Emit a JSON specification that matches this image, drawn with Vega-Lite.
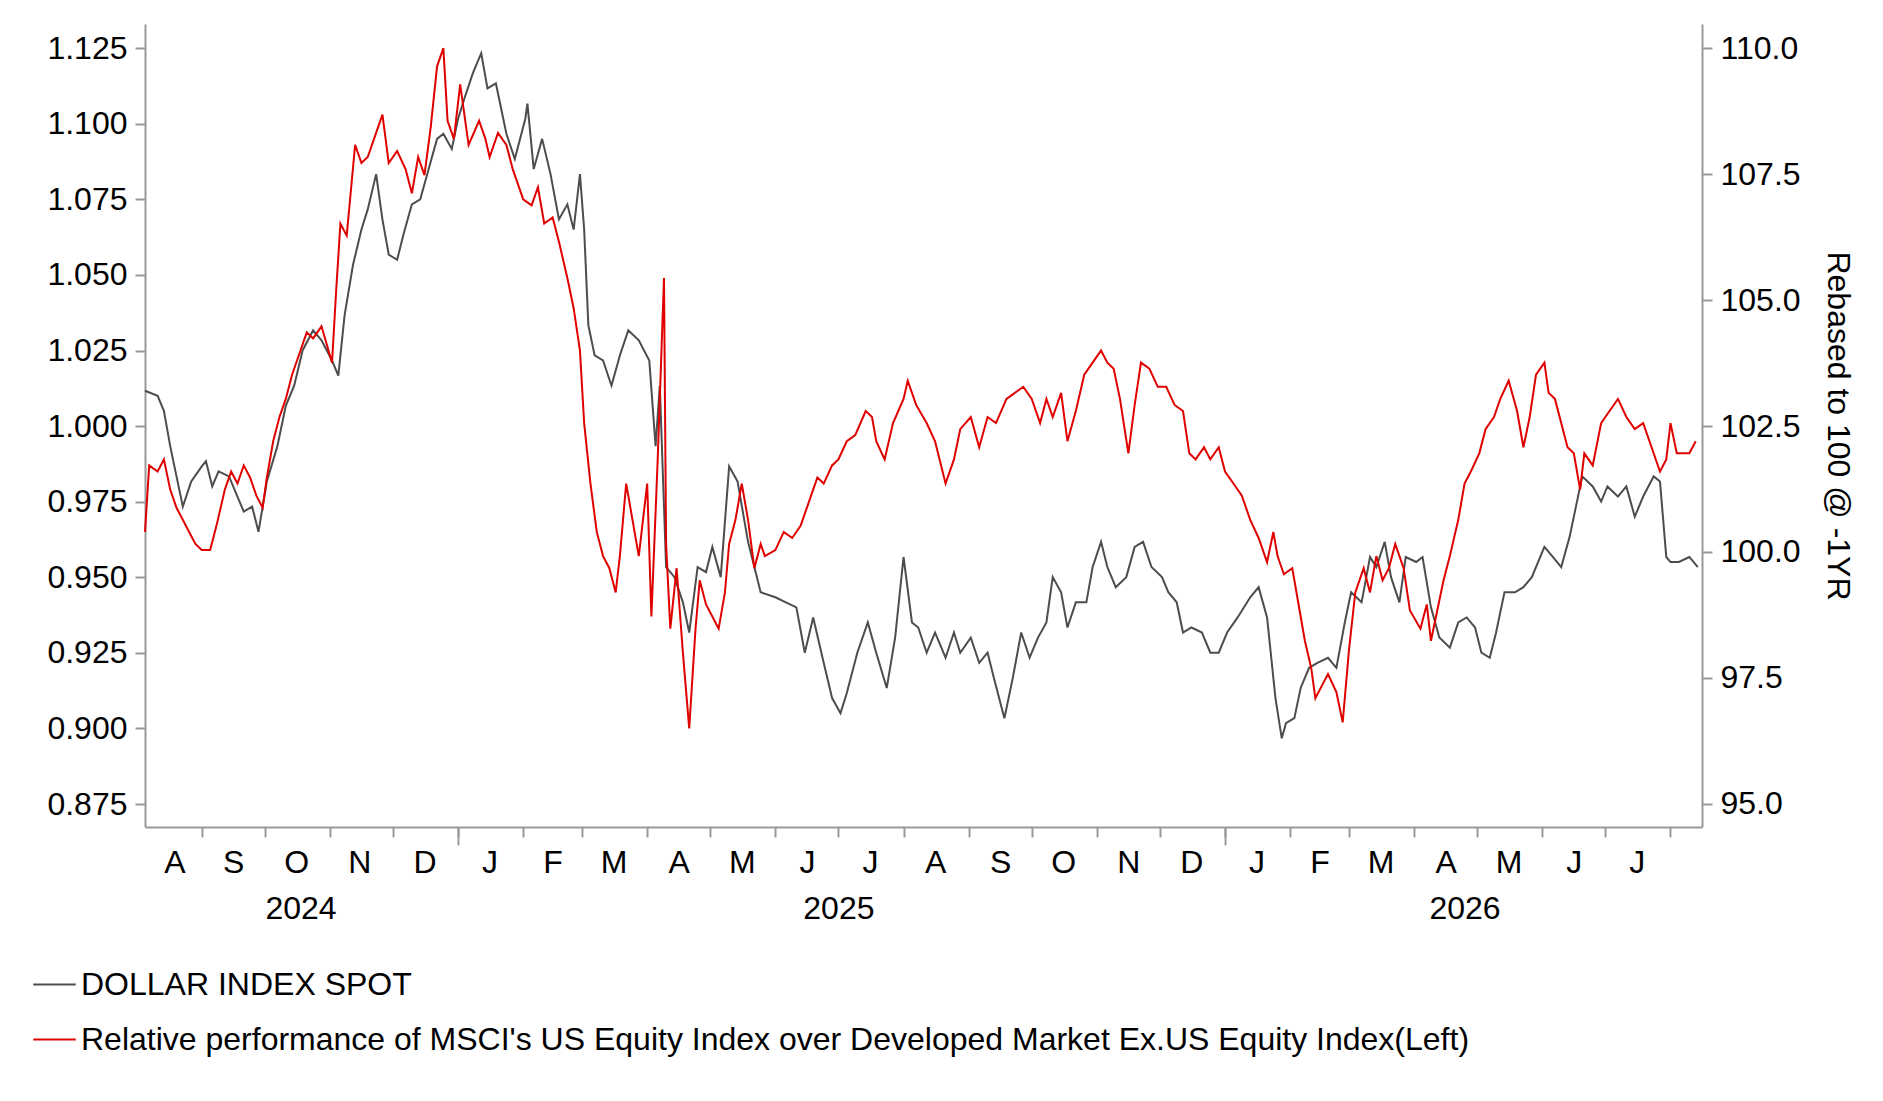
{
  "$schema": "https://vega.github.io/schema/vega-lite/v6.json",
  "width": 1557,
  "height": 803,
  "autosize": "none",
  "padding": {"left": 145, "top": 24, "right": 181, "bottom": 274},
  "config": {
    "font": "Liberation Sans",
    "view": {"stroke": null},
    "axis": {"labelFontSize": 32, "labelColor": "#000", "domainColor": "#999", "tickColor": "#999", "grid": false, "domainWidth": 2, "tickWidth": 2}
  },
  "datasets": {
    "usd": [
      {"date":"2024-08-05","v":103.2},{"date":"2024-08-11","v":103.1},{"date":"2024-08-14","v":102.8},{"date":"2024-08-17","v":102.1},{"date":"2024-08-20","v":101.5},{"date":"2024-08-23","v":100.9},{"date":"2024-08-27","v":101.4},{"date":"2024-09-01","v":101.7},{"date":"2024-09-03","v":101.8},{"date":"2024-09-06","v":101.3},{"date":"2024-09-09","v":101.6},{"date":"2024-09-14","v":101.5},{"date":"2024-09-18","v":101.1},{"date":"2024-09-21","v":100.8},{"date":"2024-09-25","v":100.9},{"date":"2024-09-28","v":100.4},
      {"date":"2024-10-02","v":101.4},{"date":"2024-10-07","v":102.1},{"date":"2024-10-11","v":102.9},{"date":"2024-10-15","v":103.3},{"date":"2024-10-19","v":104.0},{"date":"2024-10-24","v":104.4},{"date":"2024-10-28","v":104.2},{"date":"2024-11-02","v":103.8},{"date":"2024-11-05","v":103.5},{"date":"2024-11-08","v":104.7},{"date":"2024-11-12","v":105.7},{"date":"2024-11-16","v":106.4},{"date":"2024-11-19","v":106.8},{"date":"2024-11-23","v":107.5},{"date":"2024-11-26","v":106.6},{"date":"2024-11-29","v":105.9},
      {"date":"2024-12-03","v":105.8},{"date":"2024-12-06","v":106.3},{"date":"2024-12-10","v":106.9},{"date":"2024-12-14","v":107.0},{"date":"2024-12-18","v":107.6},{"date":"2024-12-22","v":108.2},{"date":"2024-12-25","v":108.3},{"date":"2024-12-29","v":108.0},{"date":"2025-01-01","v":108.6},{"date":"2025-01-04","v":109.0},{"date":"2025-01-08","v":109.5},{"date":"2025-01-12","v":109.9},{"date":"2025-01-15","v":109.2},{"date":"2025-01-19","v":109.3},{"date":"2025-01-24","v":108.3},{"date":"2025-01-28","v":107.8},
      {"date":"2025-02-02","v":108.6},{"date":"2025-02-03","v":108.9},{"date":"2025-02-06","v":107.6},{"date":"2025-02-10","v":108.2},{"date":"2025-02-14","v":107.5},{"date":"2025-02-18","v":106.6},{"date":"2025-02-22","v":106.9},{"date":"2025-02-25","v":106.4},{"date":"2025-02-28","v":107.5},{"date":"2025-03-02","v":106.4},{"date":"2025-03-04","v":104.5},{"date":"2025-03-07","v":103.9},{"date":"2025-03-11","v":103.8},{"date":"2025-03-15","v":103.3},{"date":"2025-03-19","v":103.9},{"date":"2025-03-23","v":104.4},{"date":"2025-03-28","v":104.2},
      {"date":"2025-04-02","v":103.8},{"date":"2025-04-05","v":102.1},{"date":"2025-04-07","v":103.3},{"date":"2025-04-10","v":99.7},{"date":"2025-04-14","v":99.5},{"date":"2025-04-18","v":99.0},{"date":"2025-04-21","v":98.4},{"date":"2025-04-25","v":99.7},{"date":"2025-04-29","v":99.6},{"date":"2025-05-02","v":100.1},{"date":"2025-05-06","v":99.5},{"date":"2025-05-10","v":101.7},{"date":"2025-05-14","v":101.4},{"date":"2025-05-19","v":100.2},{"date":"2025-05-22","v":99.7},{"date":"2025-05-25","v":99.2},
      {"date":"2025-06-01","v":99.1},{"date":"2025-06-06","v":99.0},{"date":"2025-06-11","v":98.9},{"date":"2025-06-15","v":98.0},{"date":"2025-06-19","v":98.7},{"date":"2025-06-24","v":97.8},{"date":"2025-06-28","v":97.1},{"date":"2025-07-02","v":96.8},{"date":"2025-07-05","v":97.2},{"date":"2025-07-10","v":98.0},{"date":"2025-07-15","v":98.6},{"date":"2025-07-19","v":98.0},{"date":"2025-07-24","v":97.3},{"date":"2025-07-28","v":98.3},
      {"date":"2025-08-01","v":99.9},{"date":"2025-08-05","v":98.6},{"date":"2025-08-08","v":98.5},{"date":"2025-08-12","v":98.0},{"date":"2025-08-16","v":98.4},{"date":"2025-08-21","v":97.9},{"date":"2025-08-25","v":98.4},{"date":"2025-08-28","v":98.0},{"date":"2025-09-02","v":98.3},{"date":"2025-09-06","v":97.8},{"date":"2025-09-10","v":98.0},{"date":"2025-09-13","v":97.5},{"date":"2025-09-18","v":96.7},{"date":"2025-09-22","v":97.5},{"date":"2025-09-26","v":98.4},{"date":"2025-09-30","v":97.9},
      {"date":"2025-10-04","v":98.3},{"date":"2025-10-08","v":98.6},{"date":"2025-10-11","v":99.5},{"date":"2025-10-15","v":99.2},{"date":"2025-10-18","v":98.5},{"date":"2025-10-22","v":99.0},{"date":"2025-10-27","v":99.0},{"date":"2025-10-30","v":99.7},{"date":"2025-11-03","v":100.2},{"date":"2025-11-06","v":99.7},{"date":"2025-11-10","v":99.3},{"date":"2025-11-15","v":99.5},{"date":"2025-11-19","v":100.1},{"date":"2025-11-23","v":100.2},{"date":"2025-11-27","v":99.7},
      {"date":"2025-12-02","v":99.5},{"date":"2025-12-05","v":99.2},{"date":"2025-12-09","v":99.0},{"date":"2025-12-12","v":98.4},{"date":"2025-12-16","v":98.5},{"date":"2025-12-21","v":98.4},{"date":"2025-12-25","v":98.0},{"date":"2025-12-29","v":98.0},{"date":"2026-01-02","v":98.4},{"date":"2026-01-07","v":98.7},{"date":"2026-01-13","v":99.1},{"date":"2026-01-17","v":99.3},{"date":"2026-01-21","v":98.7},{"date":"2026-01-25","v":97.1},{"date":"2026-01-28","v":96.3},{"date":"2026-01-30","v":96.6},
      {"date":"2026-02-03","v":96.7},{"date":"2026-02-06","v":97.3},{"date":"2026-02-10","v":97.7},{"date":"2026-02-14","v":97.8},{"date":"2026-02-19","v":97.9},{"date":"2026-02-23","v":97.7},{"date":"2026-02-27","v":98.6},{"date":"2026-03-02","v":99.2},{"date":"2026-03-07","v":99.0},{"date":"2026-03-11","v":99.9},{"date":"2026-03-14","v":99.7},{"date":"2026-03-18","v":100.2},{"date":"2026-03-21","v":99.5},{"date":"2026-03-25","v":99.0},{"date":"2026-03-28","v":99.9},
      {"date":"2026-04-02","v":99.8},{"date":"2026-04-05","v":99.9},{"date":"2026-04-09","v":98.9},{"date":"2026-04-13","v":98.3},{"date":"2026-04-18","v":98.1},{"date":"2026-04-22","v":98.6},{"date":"2026-04-26","v":98.7},{"date":"2026-04-30","v":98.5},{"date":"2026-05-03","v":98.0},{"date":"2026-05-07","v":97.9},{"date":"2026-05-10","v":98.4},{"date":"2026-05-14","v":99.2},{"date":"2026-05-19","v":99.2},{"date":"2026-05-23","v":99.3},{"date":"2026-05-27","v":99.5},
      {"date":"2026-06-02","v":100.1},{"date":"2026-06-06","v":99.9},{"date":"2026-06-10","v":99.7},{"date":"2026-06-14","v":100.3},{"date":"2026-06-17","v":100.9},{"date":"2026-06-20","v":101.5},{"date":"2026-06-25","v":101.3},{"date":"2026-06-29","v":101.0},{"date":"2026-07-02","v":101.3},{"date":"2026-07-07","v":101.1},{"date":"2026-07-11","v":101.3},{"date":"2026-07-15","v":100.7},{"date":"2026-07-19","v":101.1},{"date":"2026-07-24","v":101.5},{"date":"2026-07-27","v":101.4},{"date":"2026-07-30","v":99.9},{"date":"2026-08-01","v":99.8},{"date":"2026-08-05","v":99.8},{"date":"2026-08-10","v":99.9},{"date":"2026-08-14","v":99.7}
    ],
    "rel": [
      {"date":"2024-08-05","v":0.965},{"date":"2024-08-07","v":0.987},{"date":"2024-08-11","v":0.985},{"date":"2024-08-14","v":0.989},{"date":"2024-08-17","v":0.979},{"date":"2024-08-20","v":0.973},{"date":"2024-08-23","v":0.969},{"date":"2024-08-26","v":0.965},{"date":"2024-08-29","v":0.961},{"date":"2024-09-01","v":0.959},{"date":"2024-09-05","v":0.959},{"date":"2024-09-08","v":0.967},{"date":"2024-09-12","v":0.979},{"date":"2024-09-15","v":0.985},{"date":"2024-09-18","v":0.981},{"date":"2024-09-21","v":0.987},{"date":"2024-09-24","v":0.983},{"date":"2024-09-27","v":0.977},{"date":"2024-09-30","v":0.973},
      {"date":"2024-10-02","v":0.983},{"date":"2024-10-05","v":0.995},{"date":"2024-10-08","v":1.003},{"date":"2024-10-11","v":1.009},{"date":"2024-10-14","v":1.017},{"date":"2024-10-18","v":1.025},{"date":"2024-10-21","v":1.031},{"date":"2024-10-24","v":1.029},{"date":"2024-10-28","v":1.033},{"date":"2024-11-02","v":1.021},{"date":"2024-11-04","v":1.045},{"date":"2024-11-06","v":1.067},{"date":"2024-11-09","v":1.063},{"date":"2024-11-13","v":1.093},{"date":"2024-11-16","v":1.087},{"date":"2024-11-19","v":1.089},{"date":"2024-11-23","v":1.097},{"date":"2024-11-26","v":1.103},{"date":"2024-11-29","v":1.087},
      {"date":"2024-12-03","v":1.091},{"date":"2024-12-07","v":1.085},{"date":"2024-12-10","v":1.077},{"date":"2024-12-13","v":1.089},{"date":"2024-12-16","v":1.083},{"date":"2024-12-19","v":1.099},{"date":"2024-12-22","v":1.119},{"date":"2024-12-25","v":1.125},{"date":"2024-12-27","v":1.101},{"date":"2024-12-30","v":1.095},{"date":"2025-01-02","v":1.113},{"date":"2025-01-06","v":1.093},{"date":"2025-01-11","v":1.101},{"date":"2025-01-14","v":1.095},{"date":"2025-01-16","v":1.089},{"date":"2025-01-20","v":1.097},{"date":"2025-01-24","v":1.093},{"date":"2025-01-27","v":1.085},
      {"date":"2025-02-01","v":1.075},{"date":"2025-02-05","v":1.073},{"date":"2025-02-08","v":1.079},{"date":"2025-02-11","v":1.067},{"date":"2025-02-15","v":1.069},{"date":"2025-02-18","v":1.061},{"date":"2025-02-22","v":1.049},{"date":"2025-02-25","v":1.039},{"date":"2025-02-28","v":1.025},{"date":"2025-03-02","v":1.001},{"date":"2025-03-05","v":0.981},{"date":"2025-03-08","v":0.965},{"date":"2025-03-11","v":0.957},{"date":"2025-03-14","v":0.953},{"date":"2025-03-17","v":0.945},{"date":"2025-03-19","v":0.957},{"date":"2025-03-22","v":0.981},{"date":"2025-03-25","v":0.969},{"date":"2025-03-28","v":0.957},
      {"date":"2025-04-01","v":0.981},{"date":"2025-04-03","v":0.937},{"date":"2025-04-06","v":0.989},{"date":"2025-04-09","v":1.049},{"date":"2025-04-10","v":0.961},{"date":"2025-04-12","v":0.933},{"date":"2025-04-15","v":0.953},{"date":"2025-04-18","v":0.925},{"date":"2025-04-21","v":0.900},{"date":"2025-04-24","v":0.933},{"date":"2025-04-26","v":0.949},{"date":"2025-04-29","v":0.941},{"date":"2025-05-02","v":0.937},{"date":"2025-05-05","v":0.933},{"date":"2025-05-08","v":0.945},{"date":"2025-05-10","v":0.961},{"date":"2025-05-13","v":0.969},{"date":"2025-05-16","v":0.981},{"date":"2025-05-19","v":0.969},{"date":"2025-05-22","v":0.953},{"date":"2025-05-25","v":0.961},{"date":"2025-05-27","v":0.957},
      {"date":"2025-06-01","v":0.959},{"date":"2025-06-05","v":0.965},{"date":"2025-06-09","v":0.963},{"date":"2025-06-13","v":0.967},{"date":"2025-06-18","v":0.977},{"date":"2025-06-21","v":0.983},{"date":"2025-06-24","v":0.981},{"date":"2025-06-28","v":0.987},{"date":"2025-07-01","v":0.989},{"date":"2025-07-05","v":0.995},{"date":"2025-07-09","v":0.997},{"date":"2025-07-14","v":1.005},{"date":"2025-07-17","v":1.003},{"date":"2025-07-19","v":0.995},{"date":"2025-07-23","v":0.989},{"date":"2025-07-27","v":1.001},
      {"date":"2025-08-01","v":1.009},{"date":"2025-08-03","v":1.015},{"date":"2025-08-07","v":1.007},{"date":"2025-08-12","v":1.001},{"date":"2025-08-16","v":0.995},{"date":"2025-08-21","v":0.981},{"date":"2025-08-25","v":0.989},{"date":"2025-08-28","v":0.999},{"date":"2025-09-02","v":1.003},{"date":"2025-09-06","v":0.993},{"date":"2025-09-10","v":1.003},{"date":"2025-09-14","v":1.001},{"date":"2025-09-19","v":1.009},{"date":"2025-09-23","v":1.011},{"date":"2025-09-27","v":1.013},
      {"date":"2025-10-01","v":1.009},{"date":"2025-10-05","v":1.001},{"date":"2025-10-08","v":1.009},{"date":"2025-10-11","v":1.003},{"date":"2025-10-15","v":1.011},{"date":"2025-10-18","v":0.995},{"date":"2025-10-22","v":1.005},{"date":"2025-10-26","v":1.017},{"date":"2025-10-30","v":1.021},{"date":"2025-11-03","v":1.025},{"date":"2025-11-06","v":1.021},{"date":"2025-11-09","v":1.019},{"date":"2025-11-12","v":1.009},{"date":"2025-11-16","v":0.991},{"date":"2025-11-19","v":1.007},{"date":"2025-11-22","v":1.021},{"date":"2025-11-26","v":1.019},{"date":"2025-11-30","v":1.013},
      {"date":"2025-12-04","v":1.013},{"date":"2025-12-08","v":1.007},{"date":"2025-12-12","v":1.005},{"date":"2025-12-15","v":0.991},{"date":"2025-12-18","v":0.989},{"date":"2025-12-22","v":0.993},{"date":"2025-12-25","v":0.989},{"date":"2025-12-29","v":0.993},{"date":"2026-01-01","v":0.985},{"date":"2026-01-05","v":0.981},{"date":"2026-01-09","v":0.977},{"date":"2026-01-13","v":0.969},{"date":"2026-01-17","v":0.963},{"date":"2026-01-21","v":0.955},{"date":"2026-01-24","v":0.965},{"date":"2026-01-26","v":0.957},{"date":"2026-01-29","v":0.951},
      {"date":"2026-02-02","v":0.953},{"date":"2026-02-05","v":0.941},{"date":"2026-02-08","v":0.929},{"date":"2026-02-11","v":0.920},{"date":"2026-02-13","v":0.910},{"date":"2026-02-16","v":0.914},{"date":"2026-02-19","v":0.918},{"date":"2026-02-23","v":0.912},{"date":"2026-02-26","v":0.902},{"date":"2026-03-01","v":0.926},{"date":"2026-03-04","v":0.945},{"date":"2026-03-08","v":0.953},{"date":"2026-03-11","v":0.945},{"date":"2026-03-14","v":0.957},{"date":"2026-03-17","v":0.949},{"date":"2026-03-20","v":0.953},{"date":"2026-03-23","v":0.961},{"date":"2026-03-27","v":0.953},{"date":"2026-03-30","v":0.939},
      {"date":"2026-04-04","v":0.933},{"date":"2026-04-07","v":0.941},{"date":"2026-04-09","v":0.929},{"date":"2026-04-12","v":0.939},{"date":"2026-04-15","v":0.949},{"date":"2026-04-18","v":0.957},{"date":"2026-04-22","v":0.969},{"date":"2026-04-25","v":0.981},{"date":"2026-04-28","v":0.985},{"date":"2026-05-02","v":0.991},{"date":"2026-05-05","v":0.999},{"date":"2026-05-09","v":1.003},{"date":"2026-05-12","v":1.009},{"date":"2026-05-16","v":1.015},{"date":"2026-05-20","v":1.005},{"date":"2026-05-23","v":0.993},{"date":"2026-05-26","v":1.003},{"date":"2026-05-29","v":1.017},
      {"date":"2026-06-02","v":1.021},{"date":"2026-06-04","v":1.011},{"date":"2026-06-07","v":1.009},{"date":"2026-06-10","v":1.001},{"date":"2026-06-13","v":0.993},{"date":"2026-06-16","v":0.991},{"date":"2026-06-19","v":0.979},{"date":"2026-06-21","v":0.991},{"date":"2026-06-25","v":0.987},{"date":"2026-06-29","v":1.001},{"date":"2026-07-01","v":1.003},{"date":"2026-07-07","v":1.009},{"date":"2026-07-11","v":1.003},{"date":"2026-07-15","v":0.999},{"date":"2026-07-19","v":1.001},{"date":"2026-07-23","v":0.993},{"date":"2026-07-27","v":0.985},{"date":"2026-07-30","v":0.989},{"date":"2026-08-01","v":1.001},{"date":"2026-08-04","v":0.991},{"date":"2026-08-07","v":0.991},{"date":"2026-08-10","v":0.991},{"date":"2026-08-13","v":0.995}
    ]
  },
  "layer": [
    {
      "data": {"name": "usd"},
      "mark": {"type": "line", "strokeWidth": 2},
      "encoding": {
        "x": {"field": "date", "type": "temporal", "scale": {"domain": ["2024-08-05", "2026-08-16"], "nice": false},
          "axis": {"orient": "bottom", "tickCount": {"interval": "month", "step": 1}, "labels": false, "tickSize": 10, "title": null}},
        "y": {"field": "v", "type": "quantitative", "scale": {"domain": [94.54, 110.48], "nice": false, "zero": false},
          "axis": {"orient": "right", "values": [95, 97.5, 100, 102.5, 105, 107.5, 110], "format": ".1f", "tickSize": 10, "labelPadding": 8, "title": "Rebased to 100 @ -1YR", "titleFontSize": 32, "titleFontWeight": "normal", "titleAngle": 90, "titlePadding": 20, "titleColor": "#000"}},
        "color": {"datum": "DOLLAR INDEX SPOT", "type": "nominal"}
      }
    },
    {
      "data": {"name": "rel"},
      "mark": {"type": "line", "opacity": 0},
      "encoding": {
        "x": {"field": "date", "type": "temporal",
          "axis": {"orient": "bottom", "values": ["2024-08-19", "2024-09-16", "2024-10-16", "2024-11-15", "2024-12-16", "2025-01-16", "2025-02-15", "2025-03-16", "2025-04-16", "2025-05-16", "2025-06-16", "2025-07-16", "2025-08-16", "2025-09-16", "2025-10-16", "2025-11-16", "2025-12-16", "2026-01-16", "2026-02-15", "2026-03-16", "2026-04-16", "2026-05-16", "2026-06-16", "2026-07-16"],
            "labelExpr": "slice(timeFormat(datum.value, '%b'), 0, 1)", "ticks": false, "domain": false, "labelPadding": 20, "title": null, "labelFlush": false, "labelOverlap": false}},
        "y": {"field": "v", "type": "quantitative", "scale": {"domain": [0.8674, 1.133], "nice": false, "zero": false}, "axis": null}
      }
    },
    {
      "data": {"name": "rel"},
      "mark": {"type": "line", "opacity": 0},
      "encoding": {
        "x": {"field": "date", "type": "temporal",
          "axis": {"orient": "bottom", "values": ["2024-10-18", "2025-07-01", "2026-04-25"], "format": "%Y", "ticks": false, "domain": false, "labelPadding": 66, "title": null, "labelFlush": false}},
        "y": {"field": "v", "type": "quantitative", "scale": {"domain": [0.8674, 1.133], "nice": false, "zero": false}, "axis": null}
      }
    },
    {
      "data": {"name": "rel"},
      "mark": {"type": "line", "strokeWidth": 2},
      "encoding": {
        "x": {"field": "date", "type": "temporal",
          "axis": {"orient": "bottom", "values": ["2025-01-01", "2026-01-01"], "labels": false, "tickSize": 18, "domain": false, "title": null}},
        "y": {"field": "v", "type": "quantitative", "scale": {"domain": [0.8674, 1.133], "nice": false, "zero": false},
          "axis": {"orient": "left", "values": [0.875, 0.9, 0.925, 0.95, 0.975, 1.0, 1.025, 1.05, 1.075, 1.1, 1.125], "format": ".3f", "tickSize": 10, "labelPadding": 8, "title": null}},
        "color": {"datum": "Relative performance of MSCI's US Equity Index over Developed Market Ex.US Equity Index(Left)", "type": "nominal"}
      }
    }
  ],
  "encoding": {
    "color": {
      "scale": {"domain": ["DOLLAR INDEX SPOT", "Relative performance of MSCI's US Equity Index over Developed Market Ex.US Equity Index(Left)"], "range": ["#4d4d4d", "#e00000"]},
      "legend": {"orient": "none", "legendX": -113, "legendY": 938, "title": null, "symbolType": "stroke", "symbolStrokeWidth": 2, "symbolSize": 1800, "labelFontSize": 32, "labelLimit": 0, "rowPadding": 16, "labelColor": "#000"}
    }
  },
  "resolve": {"scale": {"y": "independent"}, "axis": {"x": "independent", "y": "independent"}}
}
